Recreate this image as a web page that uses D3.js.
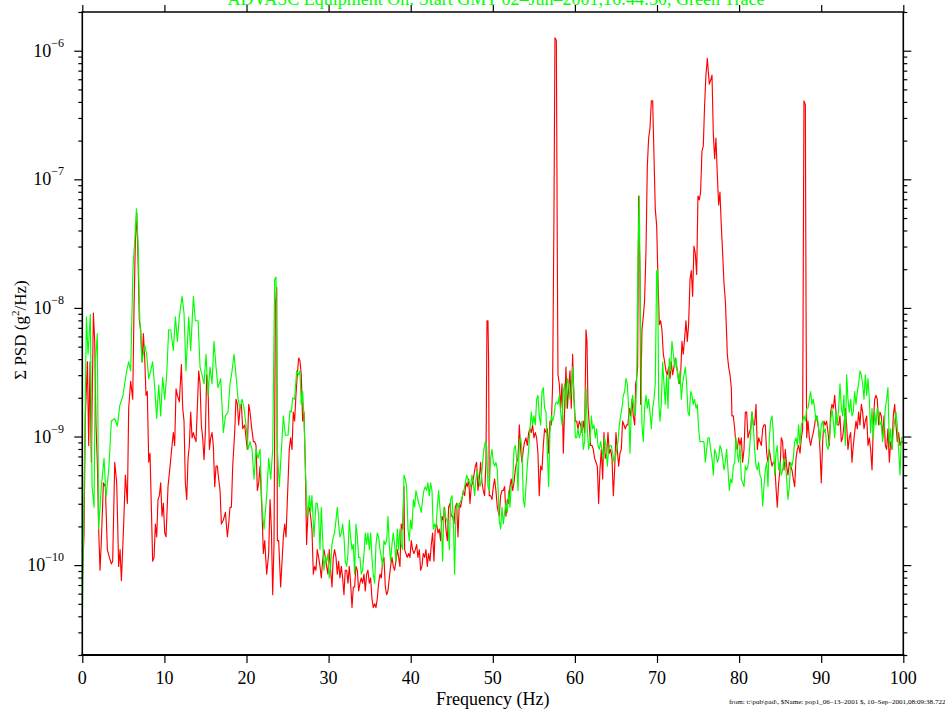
<!DOCTYPE html>
<html>
<head>
<meta charset="utf-8">
<script src="https://cdn.jsdelivr.net/npm/d3@7"></script>
<style>
  html, body { margin: 0; padding: 0; background: #fff; }
  svg { display: block; font-family: "Liberation Serif", "Times New Roman", serif; }
  .trace { fill: none; stroke-width: 1.15; stroke-linejoin: round; }
  .axis path, .axis line { stroke: #000; }
  .axis text { display: none; }
</style>
</head>
<body>
<svg id="chart" width="945" height="710"></svg>
<script>
// PSD plot, red trace + green trace, log y. Values are log10 of PSD in g^2/Hz.

const TITLE = "ADVASC Equipment On: Start GMT 02\u2013Jun\u20132001,16:44:50, Green Trace";
const FOOTER = "from: t:\\pub\\pad\\, $Name: pop1_06\u201313\u20132001 $, 10\u2013Sep\u20132001,08:09:38.722";
const X_LABEL = "Frequency (Hz)";

const xTicks = [0, 10, 20, 30, 40, 50, 60, 70, 80, 90, 100];
const yDecades = [-10, -9, -8, -7, -6];
const yMinorMultipliers = [2, 3, 4, 5, 6, 7, 8, 9];

// [frequency Hz, log10 PSD]
const redTrace = [
  [0.00,-10.15],[0.21,-9.75],[0.37,-8.84],[0.62,-8.42],[0.78,-9.07],[0.94,-8.42],[1.10,-9.20],[1.35,-8.04],
  [1.51,-8.26],[1.67,-8.91],[1.83,-9.20],[1.99,-9.72],[2.16,-10.04],[2.32,-9.81],[2.57,-9.36],[2.81,-9.39],
  [3.05,-9.88],[3.30,-9.94],[3.54,-9.99],[3.70,-9.97],[3.95,-9.20],[4.19,-9.36],[4.43,-10.01],[4.60,-9.88],
  [4.76,-10.12],[5.00,-9.75],[5.25,-9.30],[5.49,-9.52],[5.65,-8.78],[5.89,-8.57],[6.14,-8.71],[6.30,-8.00],
  [6.46,-7.49],[6.63,-7.26],[6.79,-7.62],[6.95,-8.10],[7.11,-8.17],[7.28,-8.42],[7.44,-8.20],[7.60,-8.39],
  [7.76,-8.68],[7.92,-8.65],[8.09,-9.20],[8.25,-9.13],[8.41,-9.55],[8.57,-9.97],[8.74,-9.94],[8.90,-9.68],
  [9.06,-9.78],[9.22,-9.49],[9.39,-9.46],[9.55,-9.36],[9.71,-9.62],[9.87,-9.52],[10.04,-9.75],[10.20,-9.78],
  [10.44,-9.39],[10.69,-9.23],[10.93,-9.07],[11.09,-8.97],[11.25,-9.07],[11.42,-8.63],[11.58,-8.68],[11.82,-8.73],
  [12.07,-8.44],[12.23,-8.78],[12.39,-8.88],[12.55,-9.36],[12.72,-9.49],[12.88,-9.17],[13.04,-9.07],[13.20,-8.81],
  [13.37,-9.01],[13.53,-8.97],[13.69,-9.01],[13.85,-9.04],[14.01,-8.78],[14.18,-8.49],[14.34,-8.59],[14.50,-8.91],
  [14.66,-9.01],[14.83,-9.18],[14.99,-8.97],[15.15,-8.52],[15.31,-8.59],[15.48,-9.10],[15.64,-9.01],[15.80,-8.97],
  [15.96,-9.07],[16.13,-9.39],[16.29,-9.23],[16.45,-9.23],[16.61,-9.33],[16.78,-9.42],[16.94,-9.68],[17.18,-9.65],
  [17.43,-9.59],[17.67,-9.78],[17.83,-9.68],[17.99,-9.55],[18.16,-9.55],[18.32,-9.23],[18.56,-8.97],[18.72,-8.71],
  [18.89,-8.75],[19.05,-8.91],[19.21,-8.78],[19.37,-8.75],[19.54,-8.94],[19.78,-8.91],[19.94,-9.01],[20.10,-9.10],
  [20.27,-8.75],[20.43,-8.81],[20.59,-8.91],[20.84,-9.04],[21.00,-9.04],[21.16,-9.07],[21.32,-9.42],[21.49,-9.36],
  [21.65,-9.23],[21.89,-9.59],[22.05,-9.91],[22.22,-9.81],[22.46,-10.07],[22.70,-9.91],[22.87,-9.49],[23.03,-9.72],
  [23.19,-10.23],[23.35,-9.84],[23.52,-7.97],[23.68,-7.84],[23.76,-9.81],[23.92,-9.81],[24.16,-10.17],[24.33,-9.97],
  [24.49,-9.78],[24.65,-9.68],[24.81,-9.78],[24.98,-9.49],
  [25.21,-9.10],[25.37,-9.01],[25.54,-9.10],[25.70,-8.81],[25.86,-8.88],[26.02,-8.68],[26.19,-8.52],[26.35,-8.39],
  [26.51,-8.41],[26.67,-8.52],[26.84,-8.88],[27.00,-8.81],[27.16,-9.20],[27.32,-9.84],[27.49,-9.59],[27.65,-9.55],
  [27.81,-9.62],[27.97,-9.72],[28.14,-10.07],[28.30,-10.01],[28.46,-10.04],[28.62,-9.88],[28.79,-9.94],[28.95,-10.01],
  [29.11,-10.10],[29.27,-9.97],[29.43,-9.88],[29.60,-9.94],[29.76,-10.01],[29.92,-10.07],[30.08,-9.88],[30.25,-10.04],
  [30.41,-10.17],[30.57,-9.94],[30.73,-9.88],[30.90,-9.94],[31.06,-10.07],[31.22,-9.97],[31.38,-10.10],[31.55,-10.01],
  [31.71,-10.10],[31.87,-10.23],[32.03,-10.04],[32.20,-10.04],[32.36,-10.14],[32.52,-10.01],[32.68,-10.14],[32.85,-10.33],
  [33.01,-10.17],[33.17,-10.17],[33.33,-10.01],[33.50,-10.04],[33.66,-10.20],[33.82,-10.14],[33.98,-10.10],[34.15,-10.14],
  [34.31,-10.07],[34.47,-10.20],[34.63,-10.07],[34.79,-10.04],[34.96,-10.14],[35.12,-10.10],[35.28,-10.26],[35.44,-10.33],
  [35.61,-10.30],[35.77,-10.33],[35.93,-10.26],[36.09,-10.14],[36.26,-10.07],[36.42,-10.10],[36.58,-9.97],[36.74,-9.94],
  [36.91,-10.17],[37.07,-10.23],[37.23,-10.20],[37.39,-10.10],[37.55,-10.01],[37.72,-9.94],[37.88,-10.01],[38.04,-10.04],
  [38.20,-9.97],[38.37,-9.88],[38.53,-9.94],[38.69,-10.01],[38.85,-9.68],[39.02,-9.72],[39.18,-9.39],[39.26,-9.88],
  [39.42,-9.91],[39.58,-9.94],[39.75,-9.91],[39.91,-9.94],[40.07,-9.81],[40.23,-9.88],[40.40,-9.91],[40.56,-9.88],
  [40.72,-9.84],[40.88,-9.94],[41.05,-9.88],[41.21,-10.04],[41.37,-10.01],[41.53,-9.91],[41.70,-9.94],[41.86,-9.88],
  [42.02,-10.01],[42.18,-9.91],[42.35,-9.97],[42.51,-9.84],[42.67,-9.75],[42.83,-9.97],[42.99,-9.72],[43.16,-9.68],
  [43.32,-9.75],[43.48,-9.72],[43.64,-9.81],[43.81,-9.62],[43.97,-9.65],[44.13,-9.55],[44.29,-9.72],[44.46,-9.81],
  [44.62,-9.55],[44.78,-9.52],[44.94,-9.62],[45.11,-9.62],[45.27,-9.68],[45.43,-9.55],[45.59,-9.52],[45.76,-9.78],
  [45.92,-9.52],[46.08,-9.55],[46.24,-9.49],[46.41,-9.42],[46.57,-9.46],[46.73,-9.36],[46.89,-9.39],[47.06,-9.33],
  [47.22,-9.52],[47.38,-9.39],[47.54,-9.36],[47.70,-9.30],[47.87,-9.23],[48.03,-9.20],[48.19,-9.42],[48.35,-9.33],
  [48.52,-9.20],[48.68,-9.36],[48.84,-9.42],[49.00,-9.46],[49.17,-9.20],[49.29,-8.10],[49.41,-8.10],[49.49,-8.42],
  [49.57,-9.46],[49.73,-9.46],[49.90,-9.49],[50.06,-9.39],[50.22,-9.33],[50.38,-9.42],[50.55,-9.55],
  [50.79,-9.62],[50.95,-9.46],[51.12,-9.42],[51.28,-9.42],[51.44,-9.39],[51.60,-9.62],[51.77,-9.49],[51.93,-9.52],
  [52.09,-9.39],[52.25,-9.33],[52.42,-9.42],[52.58,-9.36],[52.74,-9.26],[52.90,-9.20],[53.07,-9.17],[53.23,-8.91],
  [53.39,-9.10],[53.55,-9.20],[53.72,-9.10],[53.88,-9.04],[54.04,-9.01],[54.20,-9.07],[54.37,-8.97],[54.53,-8.94],
  [54.69,-8.97],[54.85,-8.91],[55.01,-9.01],[55.18,-8.97],[55.34,-9.01],[55.50,-9.13],[55.66,-9.46],[55.83,-9.23],
  [55.99,-9.26],[56.15,-9.07],[56.31,-8.94],[56.48,-8.97],[56.64,-8.94],[56.80,-9.13],[56.96,-8.88],[57.13,-8.91],
  [57.29,-8.59],[57.45,-7.29],[57.57,-5.90],[57.74,-5.92],[57.86,-7.62],[57.94,-8.52],[58.10,-8.59],[58.26,-8.78],
  [58.43,-8.59],[58.59,-9.13],[58.75,-8.78],[58.91,-8.46],[59.08,-8.78],[59.24,-8.62],[59.40,-8.49],[59.56,-8.78],
  [59.72,-8.36],[59.89,-8.71],[60.05,-8.88],[60.21,-8.88],[60.37,-8.94],[60.54,-8.88],[60.70,-8.91],[60.86,-8.97],
  [61.02,-8.88],[61.19,-8.97],[61.35,-8.17],[61.47,-8.26],[61.59,-8.75],[61.75,-8.91],[61.92,-9.07],[62.08,-9.07],
  [62.24,-9.10],[62.40,-9.17],[62.57,-9.20],[62.73,-9.23],[62.89,-9.52],[63.05,-9.26],[63.22,-9.10],[63.38,-9.33],
  [63.54,-8.97],[63.70,-9.17],[63.87,-9.13],[64.03,-8.97],[64.19,-9.13],[64.35,-9.10],[64.52,-9.17],[64.68,-9.46],
  [64.84,-9.26],[65.00,-8.97],[65.16,-9.10],[65.33,-9.23],[65.49,-9.13],[65.65,-9.10],[65.81,-8.88],[65.98,-8.91],
  [66.14,-8.94],[66.30,-8.91],[66.46,-8.91],[66.63,-8.78],[66.79,-8.84],[66.95,-8.71],[67.11,-8.84],[67.28,-8.91],
  [67.40,-8.59],[67.52,-8.55],[67.64,-8.46],[67.76,-7.13],[67.93,-7.74],[68.01,-8.75],[68.17,-8.17],[68.33,-8.07],
  [68.49,-7.94],[68.66,-7.55],[68.82,-6.90],[68.98,-6.68],[69.14,-6.61],[69.31,-6.39],[69.47,-6.39],[69.63,-6.81],
  [69.79,-7.23],[69.96,-7.36],[70.12,-7.78],[70.28,-8.13],[70.44,-8.10],[70.60,-8.17],[70.77,-8.36],[70.93,-8.42],
  [71.09,-8.49],[71.25,-8.52],[71.42,-8.46],[71.58,-8.55],[71.74,-8.42],[71.90,-8.52],[72.07,-8.46],[72.23,-8.39],
  [72.39,-8.46],[72.55,-8.52],[72.72,-8.59],[72.88,-8.52],[73.04,-8.26],[73.20,-8.36],[73.37,-8.23],[73.53,-8.10],
  [73.69,-8.26],[73.85,-8.13],[74.02,-7.78],[74.18,-7.71],[74.34,-7.91],[74.50,-7.52],[74.67,-7.58],[74.83,-7.74],
  [74.99,-7.13],[75.15,-7.16],[75.31,-7.10],[75.48,-6.78],[75.64,-6.74],[75.80,-6.42],[75.96,-6.19],[76.13,-6.06],
  [76.37,-6.26],[76.53,-6.23],[76.70,-6.19],[76.86,-6.65],[77.02,-6.84],[77.18,-6.68],[77.35,-6.97],[77.51,-7.20],
  [77.67,-7.10],[77.83,-7.36],[78.00,-7.58],[78.16,-7.81],[78.32,-7.94],[78.48,-8.20],[78.56,-8.36],[78.73,-8.46],
  [78.89,-8.52],[79.05,-8.62],[79.13,-8.84],[79.30,-8.84],[79.46,-8.94],[79.62,-9.07],[79.78,-9.10],[79.95,-9.01],
  [80.11,-9.07],[80.27,-9.01],[80.43,-9.20],[80.60,-9.10],[80.76,-8.81],[80.92,-8.81],[81.08,-9.01],[81.24,-8.97],
  [81.41,-8.94],[81.57,-8.81],[81.73,-8.91],[81.89,-8.91],[82.06,-8.75],[82.22,-9.10],[82.38,-9.01],[82.54,-9.04],
  [82.71,-9.07],[82.87,-8.94],[83.03,-8.91],[83.19,-8.91],[83.36,-9.13],[83.52,-9.20],[83.68,-9.10],[83.84,-9.17],
  [84.01,-9.23],[84.17,-9.20],[84.33,-9.20],[84.49,-9.39],[84.65,-9.55],[84.82,-9.36],[84.98,-9.26],[85.14,-9.01],
  [85.30,-9.04],[85.47,-9.26],[85.63,-9.10],[85.79,-9.23],[85.95,-9.30],[86.12,-9.20],[86.28,-9.23],[86.44,-9.26],
  [86.60,-9.33],[86.77,-9.39],[86.93,-9.17],[87.09,-9.10],[87.25,-9.07],[87.42,-9.13],[87.58,-9.01],[87.74,-8.94],
  [87.82,-7.62],[87.90,-6.39],[88.07,-6.42],[88.15,-7.94],[88.23,-9.01],[88.39,-8.88],[88.55,-9.01],[88.71,-9.07],
  [88.88,-9.01],[89.04,-8.97],[89.20,-8.91],[89.36,-8.84],[89.53,-8.88],[89.69,-8.94],[89.85,-9.10],[90.01,-9.36],
  [90.18,-9.04],[90.34,-8.88],[90.50,-8.91],[90.66,-8.88],[90.83,-8.97],[90.99,-9.07],[91.15,-8.81],[91.31,-8.75],
  [91.48,-8.78],[91.64,-8.68],[91.80,-8.81],[91.96,-8.91],[92.13,-8.91],[92.29,-8.84],[92.45,-9.04],[92.61,-9.01],
  [92.77,-8.91],[92.94,-8.78],[93.10,-8.91],[93.26,-9.10],[93.42,-9.01],[93.59,-8.97],[93.75,-9.20],[93.91,-9.07],
  [94.07,-8.97],[94.24,-8.88],[94.40,-8.94],[94.56,-8.81],[94.72,-8.91],[94.89,-8.75],[95.05,-8.81],[95.21,-8.94],
  [95.37,-8.88],[95.54,-8.84],[95.70,-9.07],[95.86,-9.01],[96.02,-9.10],[96.19,-9.26],[96.35,-8.91],[96.51,-8.71],
  [96.67,-8.68],[96.83,-8.71],[97.00,-8.91],[97.16,-8.81],[97.32,-8.84],[97.48,-9.01],[97.65,-8.84],[97.81,-9.07],
  [97.97,-9.10],[98.13,-8.94],[98.30,-9.20],[98.46,-9.04],[98.62,-9.10],[98.78,-8.84],[98.95,-8.75],[99.11,-8.91],
  [99.27,-9.04],[99.43,-8.97],[99.60,-9.07],[99.76,-9.04],[100.00,-9.04]
];

const greenTrace = [
  [0.00,-10.46],[0.50,-8.07],[0.70,-8.36],[0.98,-8.05],[1.19,-9.39],[1.43,-9.55],[1.59,-8.42],[1.83,-8.20],
  [1.99,-9.72],[2.32,-9.39],[2.65,-9.17],[2.89,-9.47],[3.22,-9.26],[3.54,-8.88],[3.95,-8.86],[4.27,-8.92],
  [4.56,-8.76],[4.96,-8.68],[5.37,-8.50],[5.65,-8.42],[5.89,-8.49],[6.18,-7.68],[6.38,-7.49],[6.59,-7.23],
  [6.79,-7.49],[6.99,-8.07],[7.28,-8.42],[7.60,-8.29],[7.84,-8.36],[8.09,-8.55],[8.33,-8.49],[8.57,-8.42],
  [8.82,-8.62],[9.06,-8.86],[9.31,-8.60],[9.55,-8.84],[9.79,-8.54],[10.04,-8.71],[10.28,-8.52],[10.52,-8.17],
  [10.77,-8.17],[11.09,-8.33],[11.34,-8.07],[11.58,-8.26],[11.82,-8.07],[12.15,-7.91],[12.39,-8.04],[12.63,-8.49],
  [12.96,-8.07],[13.20,-8.33],[13.53,-7.91],[13.77,-8.10],[14.10,-8.10],[14.34,-8.46],[14.58,-8.52],[14.83,-8.59],
  [15.07,-8.36],[15.31,-8.68],[15.56,-8.46],[15.80,-8.59],[16.04,-8.26],[16.29,-8.46],[16.53,-8.62],[16.86,-8.55],
  [17.18,-8.97],[17.43,-8.84],[17.75,-8.81],[17.99,-8.59],[18.24,-8.49],[18.48,-8.36],[18.72,-8.52],[18.97,-8.71],
  [19.21,-8.78],[19.46,-8.71],[19.70,-8.78],[19.94,-8.91],[20.19,-9.10],[20.43,-9.04],[20.67,-9.10],[20.92,-9.33],
  [21.16,-9.10],[21.40,-9.17],[21.65,-9.10],[21.89,-9.55],[22.13,-9.72],[22.46,-9.46],[22.70,-9.17],[22.95,-9.33],
  [23.19,-9.10],[23.43,-7.78],[23.60,-7.76],[23.76,-9.10],[24.00,-9.39],[24.25,-9.10],[24.49,-8.84],[24.73,-8.99],
  [25.06,-8.99],
  [25.29,-8.80],[25.46,-8.81],[25.62,-8.70],[25.86,-8.71],[26.11,-8.49],[26.35,-8.52],[26.51,-8.49],[26.67,-8.75],
  [26.84,-8.65],[27.00,-8.84],[27.16,-9.23],[27.32,-9.49],[27.49,-9.62],[27.65,-9.46],[27.81,-9.59],[27.97,-9.46],
  [28.22,-9.78],[28.46,-9.52],[28.62,-9.52],[28.79,-9.62],[28.95,-9.88],[29.11,-9.55],[29.27,-9.78],[29.43,-10.04],
  [29.60,-9.94],[29.76,-9.97],[29.92,-9.91],[30.08,-10.10],[30.25,-10.01],[30.41,-9.84],[30.57,-9.78],[30.73,-9.75],
  [30.90,-9.65],[31.06,-9.55],[31.22,-9.68],[31.38,-9.78],[31.55,-9.75],[31.71,-9.68],[31.87,-9.78],[32.03,-9.97],
  [32.20,-10.01],[32.36,-9.91],[32.52,-9.65],[32.68,-9.78],[32.85,-9.88],[33.01,-9.84],[33.17,-10.07],[33.33,-9.68],
  [33.50,-9.78],[33.66,-9.94],[33.82,-9.94],[33.98,-10.07],[34.15,-10.04],[34.31,-9.91],[34.47,-9.75],[34.63,-9.84],
  [34.79,-9.75],[34.96,-9.88],[35.12,-9.75],[35.28,-9.94],[35.44,-10.07],[35.61,-10.14],[35.77,-9.84],[35.93,-9.75],
  [36.09,-9.78],[36.26,-9.88],[36.42,-9.94],[36.58,-10.01],[36.74,-9.81],[36.91,-9.84],[37.07,-9.81],[37.23,-9.62],
  [37.39,-9.84],[37.55,-9.97],[37.72,-9.84],[37.88,-9.75],[38.04,-9.84],[38.20,-9.97],[38.37,-9.72],[38.53,-9.88],
  [38.69,-9.72],[38.85,-9.84],[39.02,-9.88],[39.18,-9.30],[39.34,-9.33],[39.50,-9.39],[39.67,-9.72],[39.83,-9.81],
  [39.99,-9.65],[40.15,-9.72],[40.32,-9.49],[40.48,-9.55],[40.64,-9.42],[40.80,-9.47],[40.97,-9.52],[41.13,-9.55],
  [41.29,-9.59],[41.45,-9.49],[41.61,-9.42],[41.78,-9.39],[41.94,-9.42],[42.10,-9.36],[42.26,-9.46],[42.43,-9.36],
  [42.59,-9.42],[42.75,-9.72],[42.91,-9.68],[43.08,-9.72],[43.24,-9.55],[43.40,-9.42],[43.56,-9.55],[43.73,-9.68],
  [43.89,-9.97],[44.05,-9.55],[44.21,-9.62],[44.38,-9.65],[44.54,-9.68],[44.70,-9.88],[44.86,-9.49],[45.03,-9.46],
  [45.19,-9.65],[45.35,-10.07],[45.51,-9.59],[45.67,-9.52],[45.84,-9.55],[46.00,-9.52],[46.16,-9.49],[46.32,-9.46],
  [46.49,-9.42],[46.65,-9.36],[46.81,-9.30],[46.97,-9.33],[47.14,-9.36],[47.30,-9.39],[47.46,-9.30],[47.62,-9.36],
  [47.79,-9.46],[47.95,-9.33],[48.11,-9.26],[48.27,-9.33],[48.44,-9.39],[48.60,-9.33],[48.76,-9.20],[48.92,-9.10],
  [49.09,-9.04],[49.25,-9.07],[49.41,-9.39],[49.57,-9.42],[49.73,-9.17],[49.90,-9.10],[50.06,-9.20],[50.22,-9.23],
  [50.38,-9.20],[50.55,-9.26],
  [50.79,-9.65],[50.95,-9.72],[51.12,-9.55],[51.28,-9.68],[51.44,-9.59],[51.60,-9.52],[51.77,-9.59],[51.93,-9.42],
  [52.09,-9.55],[52.25,-9.39],[52.42,-9.36],[52.58,-9.10],[52.74,-9.07],[52.90,-9.17],[53.07,-9.42],[53.23,-9.04],
  [53.39,-9.01],[53.55,-9.10],[53.72,-9.49],[53.88,-9.55],[54.04,-9.39],[54.20,-9.23],[54.37,-9.10],[54.53,-8.94],
  [54.69,-8.81],[54.85,-8.91],[55.01,-8.84],[55.18,-8.91],[55.34,-8.71],[55.50,-8.68],[55.66,-8.84],[55.83,-8.91],
  [55.99,-8.65],[56.15,-8.62],[56.31,-8.78],[56.48,-8.81],[56.64,-9.10],[56.80,-9.39],[56.96,-8.97],[57.13,-8.84],
  [57.29,-8.88],[57.45,-8.84],[57.61,-8.75],[57.78,-8.73],[57.94,-8.75],[58.10,-8.68],[58.26,-8.81],[58.43,-8.91],
  [58.59,-8.65],[58.75,-8.59],[58.91,-8.78],[59.08,-8.55],[59.24,-8.59],[59.40,-8.71],[59.56,-8.65],[59.72,-8.46],
  [59.89,-8.68],[60.05,-9.01],[60.21,-9.01],[60.37,-8.94],[60.54,-9.01],[60.70,-8.97],[60.86,-8.88],[61.02,-9.10],
  [61.19,-9.04],[61.35,-8.62],[61.51,-8.94],[61.67,-9.10],[61.84,-9.04],[62.00,-8.84],[62.16,-8.94],[62.32,-8.91],
  [62.49,-9.01],[62.65,-8.94],[62.81,-9.07],[62.97,-9.10],[63.13,-9.04],[63.30,-9.10],[63.46,-9.17],[63.62,-9.01],
  [63.78,-9.07],[63.95,-9.23],[64.11,-9.10],[64.27,-9.07],[64.43,-9.07],[64.60,-9.13],[64.76,-9.20],[64.92,-9.17],
  [65.08,-9.10],[65.25,-9.04],[65.41,-8.91],[65.57,-8.84],[65.73,-8.78],[65.90,-8.68],[66.06,-8.65],[66.22,-8.55],
  [66.38,-8.59],[66.55,-8.78],[66.71,-9.13],[66.87,-8.78],[67.03,-8.68],[67.19,-8.78],[67.36,-8.84],[67.52,-8.59],
  [67.68,-7.62],[67.84,-7.13],[68.01,-8.26],[68.17,-8.91],[68.33,-9.04],[68.49,-8.78],[68.66,-8.68],[68.82,-8.78],
  [68.98,-8.71],[69.14,-8.81],[69.31,-8.94],[69.47,-8.78],[69.63,-8.71],[69.79,-8.59],[69.96,-7.71],[70.08,-7.71],
  [70.20,-8.71],[70.36,-8.88],[70.52,-8.75],[70.69,-8.42],[70.85,-8.59],[71.01,-8.75],[71.17,-8.52],[71.34,-8.78],
  [71.50,-8.39],[71.66,-8.49],[71.82,-8.26],[71.99,-8.36],[72.15,-8.46],[72.31,-8.39],[72.47,-8.49],[72.64,-8.59],
  [72.80,-8.49],[72.96,-8.71],[73.12,-8.59],[73.29,-8.52],[73.45,-8.46],[73.61,-8.59],[73.77,-8.81],[73.93,-8.84],
  [74.10,-8.65],[74.26,-8.68],[74.42,-8.75],[74.58,-8.71],[74.75,-8.78],[74.91,-8.75],[75.07,-8.94],[75.23,-9.04],
  [75.40,-9.04],[75.56,-9.04],[75.72,-9.04],[75.88,-9.20],[76.05,-9.10],[76.21,-9.01],
  [76.37,-9.01],[76.53,-9.10],[76.70,-9.17],[76.86,-9.30],[77.02,-9.10],[77.18,-9.13],[77.35,-9.20],[77.51,-9.17],
  [77.67,-9.07],[77.83,-9.10],[78.00,-9.17],[78.16,-9.26],[78.32,-9.20],[78.48,-9.10],[78.65,-9.26],[78.81,-9.42],
  [78.97,-9.33],[79.13,-9.36],[79.30,-9.23],[79.46,-9.20],[79.62,-9.01],[79.78,-9.13],[79.95,-9.20],[80.11,-9.07],
  [80.27,-9.33],[80.43,-9.36],[80.60,-9.39],[80.76,-9.23],[80.92,-9.26],[81.08,-9.23],[81.24,-9.13],[81.41,-8.97],
  [81.57,-8.81],[81.73,-8.91],[81.89,-9.10],[82.06,-9.23],[82.22,-9.26],[82.38,-9.20],[82.54,-9.30],[82.71,-9.33],
  [82.87,-9.54],[83.03,-9.39],[83.19,-9.26],[83.36,-9.20],[83.52,-9.39],[83.68,-9.01],[83.84,-8.88],[84.01,-8.84],
  [84.17,-8.97],[84.33,-9.30],[84.49,-9.13],[84.65,-9.07],[84.82,-9.26],[84.98,-9.20],[85.14,-9.30],[85.30,-9.26],
  [85.47,-9.17],[85.63,-9.20],[85.79,-9.33],[85.95,-9.49],[86.12,-9.39],[86.28,-9.20],[86.44,-9.23],[86.60,-9.17],
  [86.77,-9.04],[86.93,-9.01],[87.09,-9.07],[87.25,-8.91],[87.42,-9.07],[87.58,-8.91],[87.74,-8.88],[87.90,-8.84],
  [88.07,-8.88],[88.23,-8.78],[88.39,-8.78],[88.55,-8.71],[88.71,-8.65],[88.88,-8.75],[89.04,-8.71],[89.20,-8.78],
  [89.36,-8.88],[89.53,-8.84],[89.69,-8.94],[89.85,-9.04],[90.01,-8.91],[90.18,-8.88],[90.34,-8.97],[90.50,-8.94],
  [90.66,-9.07],[90.83,-9.10],[90.99,-9.04],[91.15,-8.88],[91.31,-8.78],[91.48,-8.88],[91.64,-9.01],[91.80,-8.81],
  [91.96,-8.91],[92.13,-8.78],[92.29,-8.59],[92.45,-8.78],[92.61,-8.84],[92.77,-8.68],[92.94,-9.07],[93.10,-8.52],
  [93.26,-8.71],[93.42,-8.81],[93.59,-8.71],[93.75,-8.84],[93.91,-8.81],[94.07,-8.65],[94.24,-8.75],[94.40,-8.65],
  [94.56,-8.59],[94.72,-8.49],[94.89,-8.52],[95.05,-8.59],[95.21,-8.71],[95.37,-8.52],[95.54,-8.68],[95.70,-8.55],
  [95.86,-8.71],[96.02,-8.97],[96.19,-8.78],[96.35,-9.01],[96.51,-8.81],[96.67,-8.91],[96.83,-8.78],[97.00,-8.81],
  [97.16,-8.91],[97.32,-8.88],[97.48,-9.04],[97.65,-8.94],[97.81,-8.78],[97.97,-8.71],[98.13,-8.62],[98.30,-9.07],
  [98.46,-8.94],[98.62,-9.10],[98.78,-8.97],[98.95,-8.88],[99.11,-8.81],[99.27,-8.91],[99.43,-9.10],[99.60,-9.30],
  [99.76,-9.01],[100.00,-9.01]
];

const PLOT = { left: 82.3, right: 903.3, top: 12, bottom: 655 };
const COLORS = { red: "#ff0000", green: "#00ff00" };

const svg = d3.select("#chart");

const x = d3.scaleLinear().domain([0, 100]).range([PLOT.left, PLOT.right]);
const y = d3.scaleLog().domain([2e-11, 2e-6]).range([PLOT.bottom, PLOT.top]);

const majorY = yDecades.map(e => Math.pow(10, e));
const minorY = [];
[-11, ...yDecades].forEach(e => {
  yMinorMultipliers.forEach(m => {
    const v = m * Math.pow(10, e);
    if (v >= 2e-11 && v <= 2e-6) minorY.push(v);
  });
});

//Traces, clipped to the frame
svg.append("clipPath").attr("id", "plot-clip")
  .append("rect")
  .attr("x", PLOT.left).attr("y", PLOT.top)
  .attr("width", PLOT.right - PLOT.left).attr("height", PLOT.bottom - PLOT.top);

const line = d3.line()
  .x(d => x(d[0]))
  .y(d => y(Math.pow(10, d[1])));

const traces = svg.append("g").attr("clip-path", "url(#plot-clip)");
traces.append("path").datum(redTrace)
  .attr("class", "trace").attr("stroke", COLORS.red).attr("d", line);
traces.append("path").datum(greenTrace)
  .attr("class", "trace").attr("stroke", COLORS.green).attr("d", line);

//Axes: ticks point outward on all four sides
function addAxis(axis, transform) {
  const g = svg.append("g").attr("class", "axis").attr("transform", transform).call(axis);
  g.select(".domain").remove();
  g.selectAll("line").attr("stroke-width", 1.2);
  return g;
}

addAxis(d3.axisLeft(y).tickValues(majorY).tickSize(8), `translate(${PLOT.left},0)`);
addAxis(d3.axisLeft(y).tickValues(minorY).tickSize(4), `translate(${PLOT.left},0)`);
addAxis(d3.axisRight(y).tickValues(majorY).tickSize(8), `translate(${PLOT.right},0)`);
addAxis(d3.axisRight(y).tickValues(minorY).tickSize(4), `translate(${PLOT.right},0)`);
addAxis(d3.axisBottom(x).tickValues(xTicks).tickSize(8), `translate(0,${PLOT.bottom})`);
addAxis(d3.axisTop(x).tickValues(xTicks).tickSize(7), `translate(0,${PLOT.top})`);

//Frame
const frame = svg.append("g").attr("stroke", "#000").attr("fill", "none");
frame.append("line").attr("x1", PLOT.left - 1).attr("x2", PLOT.right + 1)
  .attr("y1", PLOT.bottom).attr("y2", PLOT.bottom).attr("stroke-width", 2.2);
frame.append("line").attr("x1", PLOT.left - 1).attr("x2", PLOT.right + 1)
  .attr("y1", PLOT.top).attr("y2", PLOT.top).attr("stroke-width", 1.6);
frame.append("line").attr("x1", PLOT.left).attr("x2", PLOT.left)
  .attr("y1", PLOT.top).attr("y2", PLOT.bottom).attr("stroke-width", 1.6);
frame.append("line").attr("x1", PLOT.right).attr("x2", PLOT.right)
  .attr("y1", PLOT.top).attr("y2", PLOT.bottom).attr("stroke-width", 1.6);

//Tick labels
svg.append("g").selectAll("text").data(xTicks).join("text")
  .attr("x", d => x(d)).attr("y", 684)
  .attr("text-anchor", "middle")
  .attr("font-size", 18)
  .text(d => d);

const yLabels = svg.append("g").selectAll("text").data(yDecades).join("text")
  .attr("x", 64).attr("y", d => y(Math.pow(10, d)) + 6)
  .attr("text-anchor", "end")
  .attr("font-size", 18);
yLabels.append("tspan").text("10");
yLabels.append("tspan").attr("font-size", 12).attr("dy", -10).text(d => "\u2212" + Math.abs(d));

//Axis titles
svg.append("text")
  .attr("x", (PLOT.left + PLOT.right) / 2).attr("y", 705)
  .attr("text-anchor", "middle").attr("font-size", 18)
  .text(X_LABEL);

const yTitle = svg.append("text")
  .attr("transform", "translate(26,330) rotate(-90)")
  .attr("text-anchor", "middle").attr("font-size", 17);
yTitle.append("tspan").text("\u03A3 PSD (g");
yTitle.append("tspan").attr("font-size", 11).attr("dy", -7).text("2");
yTitle.append("tspan").attr("dy", 7).text("/Hz)");

//Title (partly cut off by the top edge, like the original)
svg.append("text")
  .attr("x", 496).attr("y", 5)
  .attr("text-anchor", "middle").attr("font-size", 18)
  .attr("fill", COLORS.green)
  .text(TITLE);

svg.append("text")
  .attr("x", 729).attr("y", 704)
  .attr("font-size", 7.1)
  .text(FOOTER);
</script>
</body>
</html>
